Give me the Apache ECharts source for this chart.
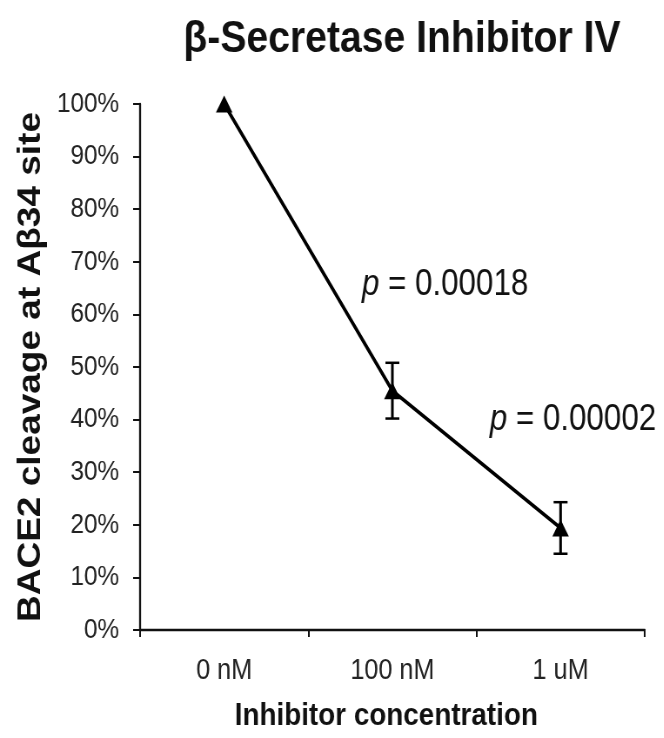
<!DOCTYPE html>
<html>
<head>
<meta charset="utf-8">
<title>β-Secretase Inhibitor IV</title>
<script src="https://cdn.jsdelivr.net/npm/echarts@6/dist/echarts.min.js"></script>
<style>
  html, body { margin: 0; padding: 0; background: #fff; overflow: hidden; }
  /* The chart is laid out wider and squeezed horizontally to get condensed lettering */
  #chart { width: 763px; height: 738px; transform: scaleX(0.87); transform-origin: 0 0; }
</style>
</head>
<body>
<div id="chart"></div>
<script>
// Inhibitor concentrations and measured cleavage (mean ± error, %)
const categories = ['0 nM', '100 nM', '1 uM'];
const cleavage = [100, 45.5, 19.4];
const errors = [0, 5.3, 4.9];
const pValues = ['0.00018', '0.00002'];
const yTicks = [0, 10, 20, 30, 40, 50, 60, 70, 80, 90, 100];

const FONT = '"Liberation Sans", Arial, Helvetica, sans-serif';
const INK = '#111';

const chart = echarts.init(document.getElementById('chart'), null, { renderer: 'canvas' });

const errData = categories.map((c, i) => [i, cleavage[i], errors[i]]);

function pText(v) {
  return {
    text: '{i|p} = ' + v,
    fontFamily: FONT, fontSize: 36, fill: INK,
    rich: { i: { fontStyle: 'italic', fontFamily: FONT, fontSize: 36, fill: INK } }
  };
}

const option = {
  backgroundColor: '#fff',
  animation: false,
  title: {
    text: 'β-Secretase Inhibitor IV',
    left: 457,
    top: 12,
    textAlign: 'center',
    textStyle: { fontFamily: FONT, fontWeight: 'bold', fontSize: 45, color: INK }
  },
  grid: { left: 161, right: 22, top: 104, bottom: 108, containLabel: false, outerBoundsMode: 'none' },
  xAxis: {
    type: 'category',
    data: categories,
    boundaryGap: true,
    name: 'Inhibitor concentration',
    nameLocation: 'middle',
    nameGap: 70,
    nameTextStyle: { fontFamily: FONT, fontWeight: 'bold', fontSize: 32, color: INK, padding: [0, 14, 0, 0] },
    axisLine: { lineStyle: { color: INK, width: 2.3 } },
    axisTick: { show: true, length: 7, lineStyle: { color: INK, width: 2 } },
    axisLabel: { fontFamily: FONT, fontSize: 29, color: '#222', margin: 26 },
    splitLine: { show: false }
  },
  yAxis: {
    type: 'value',
    min: 0,
    max: 100,
    interval: 10,
    name: 'BACE2 cleavage at Aβ34 site',
    nameLocation: 'middle',
    nameGap: 83,
    nameTextStyle: { fontFamily: FONT, fontWeight: 'bold', fontSize: 37, color: INK },
    axisLine: { show: true, lineStyle: { color: INK, width: 2.3 } },
    axisTick: { show: true, length: 8, lineStyle: { color: INK, width: 2 } },
    axisLabel: {
      fontFamily: FONT, fontSize: 28, color: '#222', margin: 24,
      formatter: v => (yTicks.indexOf(v) >= 0 ? v + '%' : '')
    },
    splitLine: { show: false }
  },
  series: [
    {
      type: 'line',
      data: cleavage,
      symbol: 'triangle',
      symbolSize: [19, 17],
      lineStyle: { color: '#000', width: 3.7 },
      itemStyle: { color: '#000' },
      z: 3
    },
    {
      type: 'custom',
      data: errData,
      z: 4,
      renderItem: function (params, api) {
        const x = api.value(0);
        const m = api.value(1);
        const e = api.value(2);
        if (!e) return null;
        const top = api.coord([x, m + e]);
        const bot = api.coord([x, m - e]);
        const half = 8;
        const vStyle = { stroke: '#000', lineWidth: 3 };
        const hStyle = { stroke: '#000', lineWidth: 2.5 };
        return {
          type: 'group',
          children: [
            { type: 'line', shape: { x1: top[0], y1: top[1], x2: bot[0], y2: bot[1] }, style: vStyle },
            { type: 'line', shape: { x1: top[0] - half, y1: top[1], x2: top[0] + half, y2: top[1] }, style: hStyle },
            { type: 'line', shape: { x1: bot[0] - half, y1: bot[1], x2: bot[0] + half, y2: bot[1] }, style: hStyle }
          ]
        };
      }
    }
  ],
  graphic: [
    { type: 'text', left: 416, top: 267, style: pText(pValues[0]) },
    { type: 'text', left: 563, top: 402, style: pText(pValues[1]) }
  ]
};

chart.setOption(option);
</script>
</body>
</html>
